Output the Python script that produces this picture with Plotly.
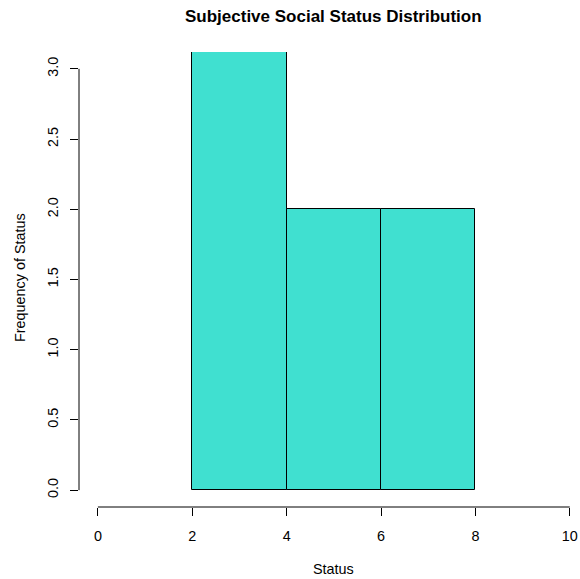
import plotly.graph_objects as go

# Histogram bins (edges) and counts per bin
bin_edges = [2, 4, 6, 8]
counts = [4, 2, 2]

x_ticks = [0, 2, 4, 6, 8, 10]
y_ticks = [0.0, 0.5, 1.0, 1.5, 2.0, 2.5, 3.0]
y_tick_text = ["0.0", "0.5", "1.0", "1.5", "2.0", "2.5", "3.0"]

title_text = "Subjective Social Status Distribution"
x_title = "Status"
y_title = "Frequency of Status"

centers = [(a + b) / 2 for a, b in zip(bin_edges[:-1], bin_edges[1:])]
widths = [b - a for a, b in zip(bin_edges[:-1], bin_edges[1:])]

W, H = 580, 579
FONT = "Liberation Sans, Arial, Helvetica, sans-serif"
FS = 14.4

fig = go.Figure(
    go.Bar(
        x=centers,
        y=counts,
        width=widths,
        marker=dict(color="#40E0D0", line=dict(color="black", width=1)),
        hoverinfo="x+y",
    )
)

# plot region in pixels
left, right, top, bottom = 79.4, 580, 51.5, 507.5
x_lo = -0.4
x_hi = x_lo + (right - left) / ((569.8 - 98.3) / 10)

fig.update_layout(
    width=W,
    height=H,
    margin=dict(l=left, r=W - right, t=top, b=H - bottom, pad=0),
    paper_bgcolor="white",
    plot_bgcolor="white",
    showlegend=False,
    font=dict(family=FONT, size=FS, color="black"),
    bargap=0,
    xaxis=dict(
        range=[x_lo, x_hi],
        tickmode="array",
        tickvals=x_ticks,
        ticktext=[str(v) for v in x_ticks],
        ticks="outside",
        ticklen=8,
        tickwidth=1,
        tickcolor="black",
        showgrid=False,
        zeroline=False,
        showline=False,
        ticklabelstandoff=8,
        tickfont=dict(size=FS),
    ),
    yaxis=dict(
        range=[-0.12, 3.12],
        tickmode="array",
        tickvals=y_ticks,
        ticktext=y_tick_text,
        ticks="outside",
        ticklen=8,
        tickwidth=1,
        tickcolor="black",
        tickangle=-90,
        showgrid=False,
        zeroline=False,
        showline=False,
        ticklabelstandoff=6,
        tickfont=dict(size=FS),
    ),
    shapes=[
        # R-style axis lines spanning only the tick range
        dict(type="line", xref="x", yref="paper", x0=x_ticks[0], x1=x_ticks[-1],
             y0=0, y1=0, line=dict(color="black", width=1)),
        dict(type="line", xref="paper", yref="y", x0=0, x1=0,
             y0=y_ticks[0], y1=y_ticks[-1], line=dict(color="black", width=1)),
    ],
    annotations=[
        dict(text=f"<b>{title_text}</b>", xref="paper", yref="paper",
             x=(333.5 - left) / (right - left), y=(H - 16 - (H - bottom)) / (bottom - top),
             xanchor="center", yanchor="middle", showarrow=False,
             font=dict(size=17)),
        dict(text=x_title, xref="paper", yref="paper",
             x=(334 - left) / (right - left), y=-(570 - bottom) / (bottom - top),
             xanchor="center", yanchor="middle", showarrow=False,
             font=dict(size=FS)),
        dict(text=y_title, xref="paper", yref="paper",
             x=-(left - 20) / (right - left), y=(bottom - 277.5) / (bottom - top),
             xanchor="center", yanchor="middle", showarrow=False, textangle=-90,
             font=dict(size=FS)),
    ],
)

fig.write_html("out.html")
